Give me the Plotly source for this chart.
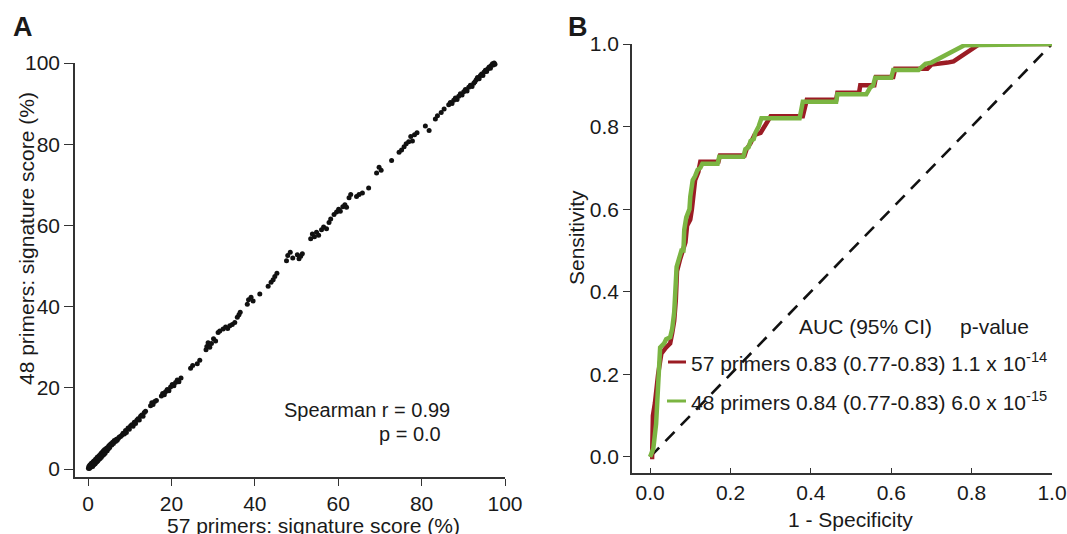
import plotly.graph_objects as go

W, H = 1067, 534

# ---------------- Panel A data: signature scores (%) ----------------
score57 = [0.1, 0.2, 0.3, 0.4, 0.5, 0.6, 0.7, 0.8, 0.9, 1.0, 1.1, 1.2, 1.3, 1.4, 1.5, 1.6, 1.7, 1.8, 1.9, 2.0,
           2.1, 2.2, 2.3, 2.4, 2.5, 2.6, 2.7, 2.8, 2.9, 3.0, 3.1, 3.2, 3.3, 3.4, 3.5, 3.6, 3.7, 3.8, 3.9, 4.0,
           4.1, 4.3, 4.4, 4.6, 4.7, 4.9, 5.0, 5.2, 5.3,
           5.5, 5.7, 5.9, 6.1, 6.3, 6.6, 6.8, 7.0, 7.3, 7.5, 7.8, 8.1, 8.4, 8.7, 9.0, 9.2,
           9.6, 9.9, 10.2, 10.5, 10.8, 11.1, 11.4, 11.7, 12.0, 12.3, 12.6, 12.9, 13.2, 13.5, 13.8,
           15.0, 15.3, 15.6, 16.0, 16.4,
           17.6, 17.9, 18.3, 18.6, 19.0, 19.4, 19.8, 20.2, 20.6, 21.0, 21.4, 21.8, 22.3,
           24.6, 25.1, 26.2, 26.8,
           28.3, 28.5, 28.8, 29.2, 29.6, 30.1, 30.6, 31.2, 31.6,
           32.4, 33.0, 33.5, 34.0, 34.6, 35.2, 35.8, 36.2, 36.5,
           38.2, 38.5, 39.1, 39.6, 41.2,
           43.2, 43.9, 44.4, 44.8, 45.3,
           47.6, 47.9, 48.5, 49.1, 50.2, 50.6, 51.0, 51.4,
           53.4, 53.8, 54.3, 54.8, 55.3, 56.0, 56.5, 57.2, 57.8, 58.2,
           59.0, 59.6, 60.1, 60.5, 61.1, 61.6, 62.0, 62.6, 63.0,
           64.4, 65.0, 65.8, 67.3,
           69.2, 69.8, 70.3, 72.8,
           74.6, 75.2, 75.8, 76.3, 76.9, 77.4, 77.8, 78.3, 78.9,
           80.9, 81.8,
           83.3, 83.8, 84.7, 85.4,
           86.5, 86.9, 87.3, 87.7, 88.1, 88.5, 88.9, 89.3, 89.7, 90.1, 90.5, 90.9, 91.3, 91.7, 92.1, 92.5, 92.8,
           93.1, 93.4, 93.8, 94.1, 94.4, 94.7, 95.0, 95.3, 95.6, 95.9, 96.2, 96.5, 96.7, 97.0, 97.2, 97.4, 97.6]
score48 = [0.2, 0.6, 0.1, 0.9, 0.4, 1.1, 0.5, 1.4, 0.7, 1.2, 0.6, 1.7, 1.0, 2.0, 1.2, 1.9, 1.3, 2.4, 1.6, 2.3,
           1.8, 2.9, 2.0, 2.7, 2.2, 3.2, 2.5, 3.4, 2.6, 3.1, 3.8, 2.9, 3.6, 4.1, 3.3, 4.0, 4.5, 3.6, 4.3, 4.8,
           3.9, 4.6, 5.1, 4.5, 5.3, 5.0, 5.7, 5.3, 6.0,
           6.2, 5.9, 6.6, 6.3, 7.0, 6.8, 7.3, 7.1, 7.6, 7.9, 8.0, 8.3, 8.8, 8.6, 9.5, 9.0,
           10.1, 9.8, 10.6, 10.9, 10.5, 11.5, 11.2, 12.0, 12.4, 12.1, 13.0, 13.3, 13.0, 13.9, 14.2,
           15.6, 16.3, 15.9, 16.6, 16.9,
           18.0, 18.6, 18.3, 19.0, 19.6, 19.3, 20.2, 20.8, 20.5, 21.3, 21.9, 21.5, 22.4,
           24.8, 25.5, 25.9, 26.8,
           29.4, 30.2, 31.1, 30.0, 30.9, 32.1, 31.5, 33.6, 34.0,
           34.5, 35.0, 34.6, 35.3, 35.6, 36.1, 37.4, 38.0, 38.6,
           40.6, 41.7, 42.3, 41.4, 43.1,
           45.0, 46.0, 46.6, 47.4, 48.2,
           51.3, 52.6, 53.4, 52.0, 52.8, 51.8, 52.4, 53.0,
           56.7, 57.9, 57.2, 58.3, 57.6, 58.9, 59.6, 59.2, 60.7, 61.6,
           62.7, 63.3, 64.0, 63.5, 64.6, 65.1, 64.5, 66.8, 67.6,
           67.1, 67.6, 68.0, 69.2,
           72.9, 74.3, 73.6, 76.0,
           78.0, 78.6, 79.4, 80.1, 80.6, 81.9, 80.8, 82.3, 82.8,
           84.5, 83.4,
           86.2, 87.0, 87.8, 88.7,
           89.7, 90.3, 90.0, 90.8, 91.4, 91.0, 91.8, 92.4, 92.1, 92.9, 93.5, 93.1, 94.0, 94.5, 94.2, 95.0, 95.4,
           95.9, 96.4, 96.1, 96.9, 97.3, 96.9, 97.8, 98.2, 97.9, 98.6, 99.0, 98.7, 99.4, 99.8, 99.5, 100.0, 99.7]

# ---------------- Panel B data: ROC curves ----------------
fpr57 = [0, 0.005, 0.007, 0.012, 0.02, 0.028, 0.04, 0.05, 0.055, 0.06, 0.064, 0.067, 0.075, 0.082, 0.088,
         0.092, 0.1, 0.104, 0.108, 0.112, 0.12, 0.125, 0.17, 0.174, 0.235, 0.24, 0.25, 0.26, 0.275, 0.285,
         0.29, 0.3, 0.38, 0.385, 0.39, 0.463, 0.466, 0.52, 0.523, 0.558, 0.562, 0.605, 0.61, 0.69, 0.7,
         0.74, 0.755, 0.82, 1.0]
tpr57 = [0, 0.0, 0.1, 0.13, 0.2, 0.25, 0.265, 0.275, 0.3, 0.33, 0.38, 0.45, 0.48, 0.5, 0.52,
         0.56, 0.575, 0.6, 0.65, 0.67, 0.69, 0.715, 0.715, 0.73, 0.73, 0.745, 0.76, 0.78, 0.785, 0.8,
         0.81, 0.825, 0.825, 0.845, 0.865, 0.865, 0.882, 0.882, 0.9, 0.9, 0.92, 0.92, 0.94, 0.94, 0.95,
         0.955, 0.958, 1.0, 1.0]
fpr48 = [0, 0.008, 0.015, 0.02, 0.025, 0.035, 0.04, 0.05, 0.055, 0.06, 0.063, 0.066, 0.072, 0.078, 0.083,
         0.085, 0.09, 0.098, 0.1, 0.106, 0.112, 0.118, 0.125, 0.13, 0.168, 0.172, 0.232, 0.237, 0.245, 0.25,
         0.258, 0.262, 0.27, 0.277, 0.372, 0.376, 0.38, 0.463, 0.466, 0.538, 0.548, 0.555, 0.56, 0.6, 0.605,
         0.668, 0.685, 0.7, 0.745, 0.782, 1.0]
tpr48 = [0, 0.02, 0.08, 0.18, 0.265, 0.275, 0.285, 0.29, 0.31, 0.35, 0.4, 0.46, 0.48, 0.5, 0.5,
         0.55, 0.58, 0.6, 0.63, 0.67, 0.68, 0.695, 0.7, 0.71, 0.71, 0.727, 0.727, 0.745, 0.75, 0.765,
         0.77, 0.785, 0.8, 0.82, 0.82, 0.845, 0.86, 0.86, 0.878, 0.878, 0.895, 0.9, 0.918, 0.918, 0.937,
         0.937, 0.952, 0.955, 0.978, 0.997, 1.0]
chance = [0, 1]

legend_rows = ["57 primers 0.83 (0.77-0.83) 1.1 x 10<sup>-14</sup>",
               "48 primers 0.84 (0.77-0.83) 6.0 x 10<sup>-15</sup>"]

RED = "#9b1c24"
GREEN = "#7bb542"
FONT = "Liberation Sans, Arial, sans-serif"
TXT = "#1a1a1a"
AX = "#333333"


def px(x):
    return x / W


def py(y):
    return 1 - y / H


fig = go.Figure()

fig.add_trace(go.Scatter(x=score57, y=score48, mode="markers", xaxis="x", yaxis="y",
                         marker=dict(color="#111111", size=5, line=dict(width=0)),
                         cliponaxis=False, showlegend=False))

fig.add_trace(go.Scatter(x=chance, y=chance, mode="lines", xaxis="x2", yaxis="y2",
                         line=dict(color="#111111", width=2.6, dash="13px,9px"),
                         cliponaxis=False, showlegend=False))
fig.add_trace(go.Scatter(x=fpr57, y=tpr57, mode="lines", xaxis="x2", yaxis="y2",
                         line=dict(color=RED, width=4.5), cliponaxis=False, showlegend=False))
fig.add_trace(go.Scatter(x=fpr48, y=tpr48, mode="lines", xaxis="x2", yaxis="y2",
                         line=dict(color=GREEN, width=4.5), cliponaxis=False, showlegend=False))

common = dict(showgrid=False, zeroline=False, showline=True, linecolor=AX, linewidth=1.6, automargin=False,
              tickcolor=AX, tickwidth=1.4, tickfont=dict(family=FONT, size=21, color=TXT))

fig.update_layout(
    template="none", showlegend=False,
    width=W, height=H, margin=dict(l=0, r=0, t=0, b=0, pad=0),
    paper_bgcolor="white", plot_bgcolor="white",
    xaxis=dict(domain=[75 / W, 505 / W], range=[-3.12, 100], anchor="y",
               tickvals=[0, 20, 40, 60, 80, 100], ticks="outside", ticklen=7, **common),
    yaxis=dict(domain=[py(477), py(63)], range=[-1.97, 100], anchor="x",
               tickvals=[0, 20, 40, 60, 80, 100], ticks="outside", ticklen=9, **common),
    xaxis2=dict(domain=[632 / W, 1052 / W], range=[-0.045, 1.0], anchor="y2",
                tickvals=[0, 0.2, 0.4, 0.6, 0.8, 1.0], ticktext=["0.0", "0.2", "0.4", "0.6", "0.8", "1.0"],
                ticks="inside", ticklen=5, **common),
    yaxis2=dict(domain=[py(473), py(44)], range=[-0.039, 1.0], anchor="x2",
                tickvals=[0, 0.2, 0.4, 0.6, 0.8, 1.0], ticktext=["0.0", "0.2", "0.4", "0.6", "0.8", "1.0"],
                ticks="outside", ticklen=7, **common),
)

ann = []


def text(x, y, s, size=21, xanchor="center", yanchor="middle", angle=0, bold=False):
    ann.append(dict(x=px(x), y=py(y), xref="paper", yref="paper", text=("<b>%s</b>" % s) if bold else s,
                    showarrow=False, xanchor=xanchor, yanchor=yanchor, textangle=angle,
                    font=dict(family=FONT, size=size, color=TXT)))


text(11, 27, "A", size=27, xanchor="left", bold=True)
text(566, 27, "B", size=27, xanchor="left", bold=True)
text(26, 239, "48 primers: signature score (%)", angle=-90)
text(313, 525, "57 primers: signature score (%)")
text(576, 238, "Sensitivity", angle=-90)
text(850, 519, "1 - Specificity")
text(452, 410, "Spearman r = 0.99", size=20, xanchor="right")
text(443, 434, "p = 0.0", size=20, xanchor="right")
text(797, 326, "AUC (95% CI)", xanchor="left")
text(958, 326, "p-value", xanchor="left")
text(689, 362, legend_rows[0], xanchor="left")
text(689, 401, legend_rows[1], xanchor="left")
fig.update_layout(annotations=ann)

fig.add_shape(type="line", xref="paper", yref="paper", x0=px(668), x1=px(686), y0=py(362), y1=py(362),
              line=dict(color=RED, width=3))
fig.add_shape(type="line", xref="paper", yref="paper", x0=px(667), x1=px(686), y0=py(401), y1=py(401),
              line=dict(color=GREEN, width=3))

fig.write_html("out.html", config={"displayModeBar": False},
               post_script="document.body.style.margin='0';document.body.style.overflow='hidden';"
                           "document.documentElement.style.overflow='hidden';")
